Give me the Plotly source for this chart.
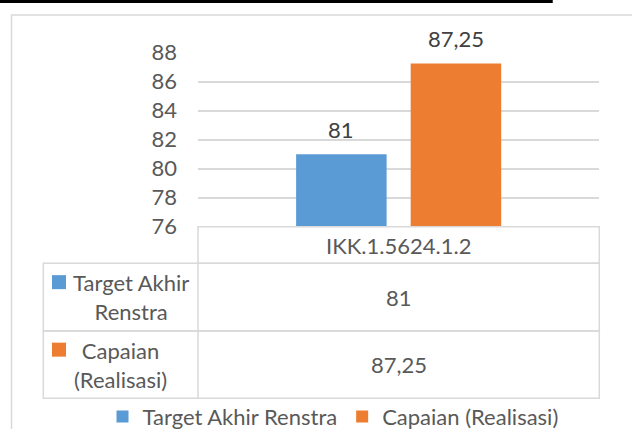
"""Excel-style column chart with a data table underneath."""

import plotly.graph_objects as go

categories = ["IKK.1.5624.1.2"]
series_names = ["Target Akhir Renstra", "Capaian (Realisasi)"]
table_labels = ["Target Akhir<br>Renstra", "Capaian<br>(Realisasi)"]
target_values = [81]
capaian_values = [87.25]
y_ticks = [76, 78, 80, 82, 84, 86, 88]

W, H = 632, 429
BLUE = "#5B9BD5"
ORANGE = "#ED7D31"
GRID = "#D9D9D9"
TEXT = "#595959"
LABEL = "#404040"
FONT = "Lato, Open Sans, sans-serif"
FS = 22

BARGAP = 0.429
BARGROUPGAP = 0.21


def px(x):
    return x / W


def py(y):
    return 1 - y / H


def fmt(v):
    return f"{v:g}".replace(".", ",")


# table geometry (pixels)
tbl_left, col_div, tbl_right = 43.3, 198, 599.3
row_y = [226.7, 263.3, 331, 398.3]

fig = go.Figure()

series = [
    (series_names[0], target_values, BLUE),
    (series_names[1], capaian_values, ORANGE),
]
for name, vals, color in series:
    fig.add_trace(
        go.Bar(
            x=categories,
            y=vals,
            name=name,
            marker=dict(color=color, line=dict(width=0)),
            hoverinfo="skip",
        )
    )

# data labels above bars (offset to each bar's slot in the group)
slot = (1 - BARGAP) * (tbl_right - col_div) / len(series)
annotations = []
for k, (name, vals, color) in enumerate(series):
    shift = (k - (len(series) - 1) / 2) * slot
    for c, v in zip(categories, vals):
        annotations.append(dict(x=c, y=v, xref="x", yref="y", text=fmt(v), showarrow=False,
                                xanchor="center", yanchor="middle", xshift=shift, yshift=25,
                                font=dict(family=FONT, size=FS, color=LABEL)))

line = dict(color=GRID, width=1.5)
shapes = []
# header row box
shapes.append(dict(type="rect", xref="paper", yref="paper", x0=px(col_div), x1=px(tbl_right),
                   y0=py(row_y[1]), y1=py(row_y[0]), line=line))
# data rows
for i in (1, 2):
    shapes.append(dict(type="rect", xref="paper", yref="paper", x0=px(tbl_left), x1=px(tbl_right),
                       y0=py(row_y[i + 1]), y1=py(row_y[i]), line=line))
shapes.append(dict(type="line", xref="paper", yref="paper", x0=px(col_div), x1=px(col_div),
                   y0=py(row_y[3]), y1=py(row_y[1]), line=line))
# outer chart border
shapes.append(dict(type="rect", xref="paper", yref="paper", x0=px(11.5), x1=px(W + 20),
                   y0=py(H + 20), y1=py(15), line=dict(color=GRID, width=1.5)))
# black line at the top
shapes.append(dict(type="line", xref="paper", yref="paper", x0=px(-5), x1=px(552.5),
                   y0=py(1.5), y1=py(1.5), line=dict(color="black", width=3)))
shapes.append(dict(type="line", xref="paper", yref="paper", x0=px(551.5), x1=px(551.5),
                   y0=py(-5), y1=py(3), line=dict(color="black", width=2)))

# header category
for c in categories:
    annotations.append(dict(x=c, xref="x", y=py((row_y[0] + row_y[1]) / 2), yref="paper",
                            xanchor="center", yanchor="middle",
                            text=c, showarrow=False, font=dict(family=FONT, size=FS, color=TEXT)))
# rows: key square, label, value
row_text_x = [131, 120]
for i, (lab, (name, vals, color)) in enumerate(zip(table_labels, series)):
    yc = (row_y[i + 1] + row_y[i + 2]) / 2
    annotations.append(dict(x=px(row_text_x[i]), xref="paper", y=py(yc), yref="paper",
                            xanchor="center", yanchor="middle",
                            text=lab, showarrow=False, align="center",
                            font=dict(family=FONT, size=FS, color=TEXT)))
    sq_y = yc - 15
    shapes.append(dict(type="rect", xref="paper", yref="paper", x0=px(52), x1=px(66),
                       y0=py(sq_y + 7), y1=py(sq_y - 7), fillcolor=color, line=dict(width=0)))
    for c, v in zip(categories, vals):
        annotations.append(dict(x=c, xref="x", y=py(yc), yref="paper",
                                xanchor="center", yanchor="middle",
                                text=fmt(v), showarrow=False,
                                font=dict(family=FONT, size=FS, color=TEXT)))

fig.update_layout(
    width=W,
    height=H,
    margin=dict(l=0, r=0, t=0, b=0, autoexpand=False),
    paper_bgcolor="white",
    plot_bgcolor="white",
    separators=",.",
    barmode="group",
    bargap=BARGAP,
    bargroupgap=BARGROUPGAP,
    font=dict(family=FONT, size=FS, color=TEXT),
    xaxis=dict(domain=[px(col_div), px(tbl_right)], showticklabels=False, showgrid=False,
               zeroline=False, showline=False, fixedrange=True),
    yaxis=dict(domain=[py(226.7), py(52.7)], range=[76, 88], tickvals=y_ticks,
               showgrid=True, gridcolor=GRID, gridwidth=1.5, zeroline=False, showline=False,
               ticks="", ticklabelstandoff=20, tickfont=dict(family=FONT, size=FS, color=TEXT),
               fixedrange=True),
    legend=dict(orientation="h", x=px(333), xanchor="center", y=py(416.7), yanchor="middle",
                font=dict(family=FONT, size=FS, color=TEXT), itemwidth=30, bgcolor="rgba(0,0,0,0)",
                traceorder="normal"),
    shapes=shapes,
    annotations=annotations,
)

# page body has a default 8px margin; drop it so the figure sits at the window's corner
fig.write_html(
    "out.html",
    config={"displayModeBar": False},
    post_script="document.body.style.margin='0';",
)
